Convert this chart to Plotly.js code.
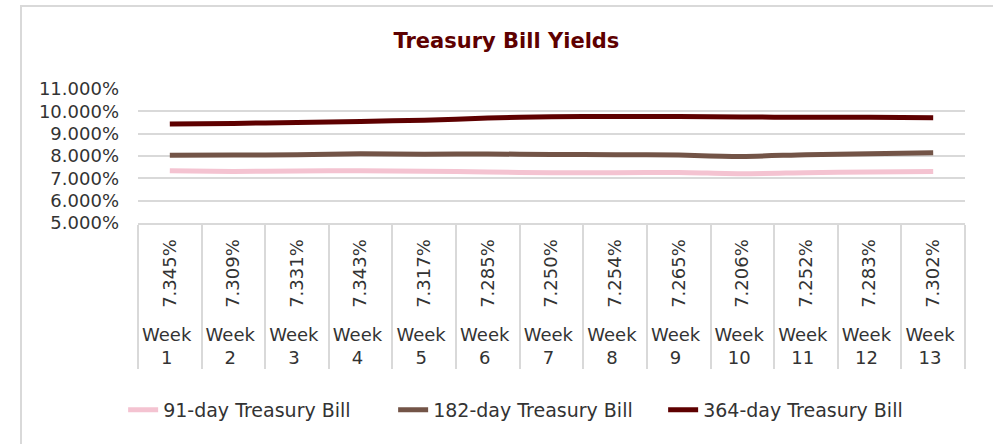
<!DOCTYPE html>
<html>
<head>
<meta charset="utf-8">
<script src="https://cdn.plot.ly/plotly-3.0.1.min.js"></script>
<style>
  html, body { margin: 0; padding: 0; background: #fff; }
  #wrap { position: relative; width: 993px; height: 444px; overflow: hidden; }
  #chart { position: absolute; left: 0; top: 0; width: 993px; height: 444px; }
  #frame { position: absolute; left: 20px; top: 5px; width: 1000px; height: 460px;
           border-left: 2px solid #d9d9d9; border-top: 2px solid #d9d9d9; pointer-events: none; }
</style>
</head>
<body>
<div id="wrap">
  <div id="chart"></div>
  <div id="frame"></div>
</div>
<script>
// ---- data (yields in %) ----
const weeks = ["Week 1","Week 2","Week 3","Week 4","Week 5","Week 6","Week 7",
               "Week 8","Week 9","Week 10","Week 11","Week 12","Week 13"];
const yield91  = [7.345, 7.309, 7.331, 7.343, 7.317, 7.285, 7.250, 7.254, 7.265, 7.206, 7.252, 7.283, 7.302];
const yield182 = [8.03, 8.04, 8.06, 8.10, 8.08, 8.09, 8.07, 8.06, 8.04, 7.98, 8.06, 8.10, 8.15];
const yield364 = [9.43, 9.46, 9.50, 9.55, 9.60, 9.70, 9.76, 9.77, 9.77, 9.75, 9.73, 9.73, 9.71];
const seriesNames = ["91-day Treasury Bill", "182-day Treasury Bill", "364-day Treasury Bill"];
const yTicks = [5, 6, 7, 8, 9, 10, 11];

// multicategory x: outer = week label, inner = 91-day value label
const outer = weeks.map(w => w.replace(" ", "<br>"));
const inner = yield91.map(v => "\u00a0" + v.toFixed(3) + "%");
const xCats = [outer, inner];

const colors = ["#f4c3d1", "#735447", "#5e0000"];
const FONT = "DejaVu Sans, sans-serif";

const traces = [yield91, yield182, yield364].map((ys, i) => ({
  type: "scatter",
  mode: "lines",
  name: seriesNames[i],
  x: xCats,
  y: ys,
  line: { color: colors[i], width: 5, shape: "spline", smoothing: 0.6 },
  hoverinfo: "skip"
}));

const layout = {
  width: 993,
  height: 444,
  paper_bgcolor: "#ffffff",
  plot_bgcolor: "#ffffff",
  margin: { l: 138, r: 28, t: 89, b: 221 },
  font: { family: FONT, color: "#333333", size: 18 },
  title: {
    text: "<b>Treasury Bill Yields</b>",
    font: { family: FONT, size: 21, color: "#5e0000" },
    xref: "container", x: 0.51, xanchor: "center",
    yref: "container", y: 0.908, yanchor: "middle"
  },
  xaxis: {
    type: "multicategory",
    range: [-0.5, 12.5],
    showgrid: false,
    zeroline: false,
    showline: true,
    linecolor: "#d9d9d9",
    linewidth: 2,
    ticks: "",
    tickangle: -90,
    ticklabelstandoff: 7,
    tickfont: { family: FONT, size: 18, color: "#333333" },
    showdividers: true,
    dividercolor: "#d9d9d9",
    dividerwidth: 2
  },
  yaxis: {
    range: [5, 11],
    tickvals: yTicks,
    ticktext: yTicks.map(v => v.toFixed(3) + "%"),
    showgrid: true,
    gridcolor: "#d9d9d9",
    gridwidth: 2,
    zeroline: false,
    showline: false,
    ticks: "",
    ticklabelstandoff: 18,
    tickfont: { family: FONT, size: 18, color: "#333333" }
  },
  showlegend: true,
  legend: {
    orientation: "h",
    xref: "container", x: 0.124, xanchor: "left",
    yref: "container", y: 0.077, yanchor: "middle",
    font: { family: FONT, size: 19, color: "#333333" },
    itemwidth: 30,
    entrywidth: 225,
    entrywidthmode: "pixels",
    bgcolor: "rgba(0,0,0,0)"
  }
};

Plotly.newPlot("chart", traces, layout, { displayModeBar: false, staticPlot: true });
</script>
</body>
</html>
